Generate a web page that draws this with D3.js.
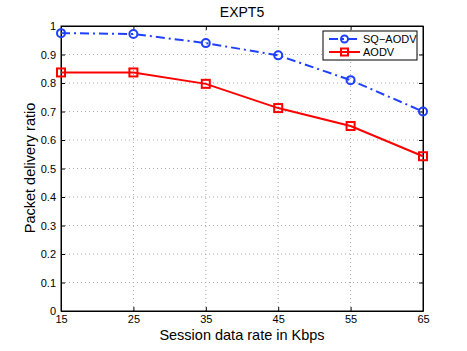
<!DOCTYPE html>
<html><head><meta charset="utf-8">
<script src="https://cdn.jsdelivr.net/npm/d3@7/dist/d3.min.js"></script>
<style>body{margin:0;background:#fff}svg{display:block;font-family:Helvetica,"Liberation Sans",Arial,sans-serif}</style>
</head><body>
<script>
const rates = [15, 25, 35, 45, 55, 65];
const sqAodv = [0.975, 0.972, 0.940, 0.897, 0.810, 0.700];
const aodv = [0.837, 0.837, 0.797, 0.712, 0.649, 0.543];
const yTicks = [0, 0.1, 0.2, 0.3, 0.4, 0.5, 0.6, 0.7, 0.8, 0.9, 1];
const xTicks = [15, 25, 35, 45, 55, 65];
const seriesNames = ["SQ\u2212AODV", "AODV"];

const W = 467, H = 351;
const L = 61, R = 423, T = 26, B = 311;
const svg = d3.select("body").append("svg").attr("width", W).attr("height", H);
const x = d3.scaleLinear().domain([15, 65]).range([L, R]);
const y = d3.scaleLinear().domain([0, 1]).range([B, T]);

// grid
const g = svg.append("g");
g.selectAll(".gx").data(xTicks.slice(1, -1)).join("line")
  .attr("x1", d => x(d)).attr("x2", d => x(d)).attr("y1", T).attr("y2", B)
  .attr("stroke", "#aaa").attr("stroke-width", 1).attr("stroke-dasharray", "1,3");
g.selectAll(".gy").data(yTicks.slice(1, -1)).join("line")
  .attr("y1", d => y(d)).attr("y2", d => y(d)).attr("x1", L).attr("x2", R)
  .attr("stroke", "#aaa").attr("stroke-width", 1).attr("stroke-dasharray", "1,3");

// axes (ticks inward)
const fmt = d => d === 0 ? "0" : d === 1 ? "1" : d3.format(".1f")(d);
const ax = svg.append("g").attr("transform", `translate(0,${B})`)
  .call(d3.axisBottom(x).tickValues(xTicks).tickSize(-4).tickPadding(4).tickSizeOuter(0));
const ay = svg.append("g").attr("transform", `translate(${L},0)`)
  .call(d3.axisLeft(y).tickValues(yTicks).tickFormat(fmt).tickSize(-4).tickPadding(5).tickSizeOuter(0));
const axTop = svg.append("g").attr("transform", `translate(0,${T})`)
  .call(d3.axisTop(x).tickValues(xTicks).tickSize(-4).tickFormat("").tickSizeOuter(0));
const ayR = svg.append("g").attr("transform", `translate(${R},0)`)
  .call(d3.axisRight(y).tickValues(yTicks).tickSize(-4).tickFormat("").tickSizeOuter(0));
[ax, ay, axTop, ayR].forEach(a => {
  a.select(".domain").attr("stroke", "#000");
  a.selectAll("line").attr("stroke", "#000");
  a.selectAll("text").attr("font-size", 11).attr("fill", "#000").attr("font-family", "Helvetica,'Liberation Sans',Arial,sans-serif");
});
svg.append("rect").attr("x", L).attr("y", T).attr("width", R - L).attr("height", B - T)
  .attr("fill", "none").attr("stroke", "#000").attr("stroke-width", 1);

const blue = "#2040ff", red = "#ff0000";
const line = d3.line().x((d, i) => x(rates[i])).y(d => y(d));
svg.append("path").datum(sqAodv).attr("d", line).attr("fill", "none")
  .attr("stroke", blue).attr("stroke-width", 2).attr("stroke-dasharray", "9,4,2,4");
svg.append("path").datum(aodv).attr("d", line).attr("fill", "none")
  .attr("stroke", red).attr("stroke-width", 2);
svg.selectAll(".mc").data(sqAodv).join("circle")
  .attr("cx", (d, i) => x(rates[i])).attr("cy", d => y(d)).attr("r", 4)
  .attr("fill", "none").attr("stroke", blue).attr("stroke-width", 2);
svg.selectAll(".ms").data(aodv).join("rect")
  .attr("x", (d, i) => x(rates[i]) - 4).attr("y", d => y(d) - 4).attr("width", 8).attr("height", 8)
  .attr("fill", "none").attr("stroke", red).attr("stroke-width", 2);

// title & labels
svg.append("text").attr("x", 242).attr("y", 17).attr("text-anchor", "middle")
  .attr("font-size", 14).text("EXPT5");
svg.append("text").attr("x", 242).attr("y", 340).attr("text-anchor", "middle")
  .attr("font-size", 14.5).text("Session data rate in Kbps");
svg.append("text").attr("transform", "translate(35,168) rotate(-90)").attr("text-anchor", "middle")
  .attr("font-size", 14.5).text("Packet delivery ratio");

// legend
const lg = svg.append("g");
lg.append("rect").attr("x", 323).attr("y", 31).attr("width", 94).attr("height", 29)
  .attr("fill", "#fff").attr("stroke", "#000").attr("stroke-width", 1);
const ly = [39, 52];
lg.append("line").attr("x1", 329).attr("x2", 360).attr("y1", ly[0]).attr("y2", ly[0])
  .attr("stroke", blue).attr("stroke-width", 2).attr("stroke-dasharray", "9,4,2,4");
lg.append("circle").attr("cx", 344.5).attr("cy", ly[0]).attr("r", 3.5)
  .attr("fill", "none").attr("stroke", blue).attr("stroke-width", 2);
lg.append("line").attr("x1", 329).attr("x2", 360).attr("y1", ly[1]).attr("y2", ly[1])
  .attr("stroke", red).attr("stroke-width", 2);
lg.append("rect").attr("x", 341).attr("y", ly[1] - 3.5).attr("width", 7).attr("height", 7)
  .attr("fill", "none").attr("stroke", red).attr("stroke-width", 2);
lg.selectAll(".lt").data(seriesNames).join("text")
  .attr("x", 363).attr("y", (d, i) => ly[i] + 4).attr("font-size", 11).text(d => d);
</script>
</body></html>
